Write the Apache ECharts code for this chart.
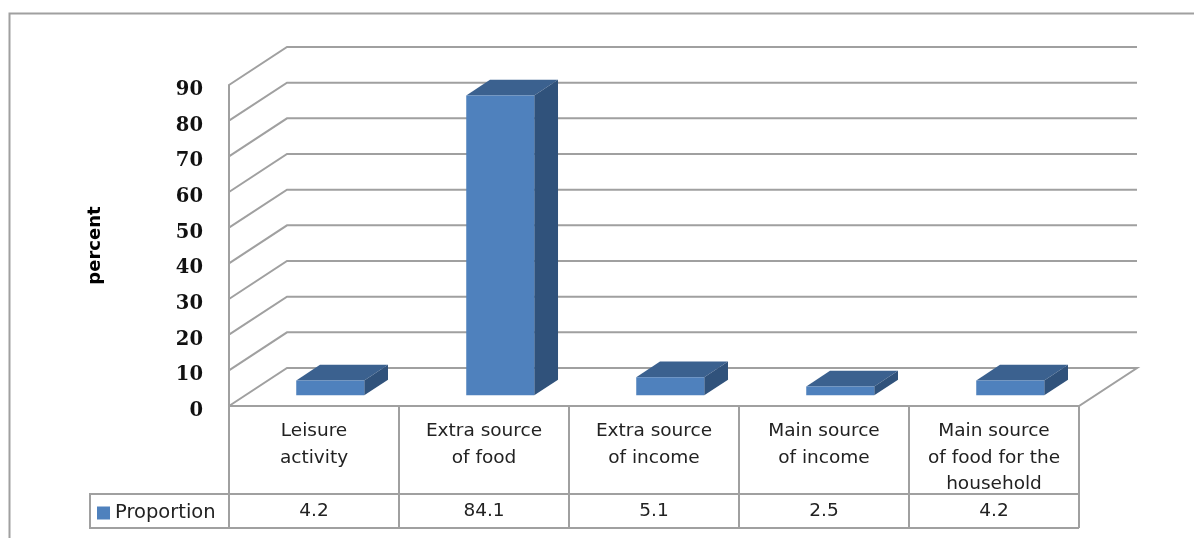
<!DOCTYPE html>
<html>
<head>
<meta charset="utf-8">
<script src="https://cdn.jsdelivr.net/npm/echarts@6/dist/echarts.min.js"></script>
<style>
html,body{margin:0;padding:0;background:#fff;overflow:hidden}
#c{width:1194px;height:538px;filter:blur(0.5px)}
</style>
</head>
<body>
<div id="c"></div>
<script>
var categories = ['Leisure\nactivity','Extra source\nof food','Extra source\nof income','Main source\nof income','Main source\nof food for the\nhousehold'];
var proportion = [4.2, 84.1, 5.1, 2.5, 4.2];
var gridTicks = [0,10,20,30,40,50,60,70,80,90];
var seriesName = 'Proportion';

var LINE = '#a0a0a0', LW = 2, TEXT = '#222222';
var DX = 58, DY = -38;           // floor depth in pixels
var BAR_FRONT = 0.28, BAR_BACK = 0.69, BAR_W = 0.4;
var ROW1 = 88, ROW2 = 122;       // table rows below the zero line
var FONT = '"DejaVu Sans"', FS = 18.5;

function line(pts){
  return {type:'polyline',shape:{points:pts},style:{stroke:LINE,lineWidth:LW,fill:null},silent:true};
}
function poly(pts,c){
  return {type:'polygon',shape:{points:pts},style:{fill:c,stroke:null}};
}

function renderWall(params,api){
  var v = api.value(1);
  var n = categories.length;
  var halfBand = api.size([1,0])[0]/2;
  var a = api.coord([0,v]), b = api.coord([n-1,v]);
  var x0 = a[0]-halfBand, x1 = b[0]+halfBand, y = a[1];
  var kids = [line([[x0,y],[x0+DX,y+DY],[x1+DX,y+DY]])];
  if(v===0){
    kids = [line([[x0,y],[x0+DX,y+DY],[x1+DX,y+DY],[x1,y],[x0,y]])];
  }
  return {type:'group',children:kids};
}

function renderBar(params,api){
  var i = api.value(0), v = api.value(1);
  var base = api.coord([i,0]), top = api.coord([i,v]);
  var w = api.size([1,0])[0]*BAR_W;
  var fx = base[0]-w/2+DX*BAR_FRONT, bx = (BAR_BACK-BAR_FRONT)*DX, by = (BAR_BACK-BAR_FRONT)*DY;
  var oy = DY*BAR_FRONT;
  var yb = base[1]+oy, yt = top[1]+oy;
  return {type:'group',children:[
    poly([[fx,yt],[fx+bx,yt+by],[fx+w+bx,yt+by],[fx+w,yt]],'#3b618f'),
    poly([[fx+w,yt],[fx+w+bx,yt+by],[fx+w+bx,yb+by],[fx+w,yb]],'#30527b'),
    poly([[fx,yt],[fx+w,yt],[fx+w,yb],[fx,yb]],'#4f81bd')
  ]};
}

function renderTable(params,api){
  var i = api.value(0), v = api.value(1);
  var p = api.coord([i,0]);
  var half = api.size([1,0])[0]/2, y0 = p[1];
  var l = p[0]-half, r = p[0]+half;
  var kids = [
    line([[l,y0],[l,y0+ROW2]]),
    line([[r,y0],[r,y0+ROW2]]),
    line([[l,y0+ROW1],[r,y0+ROW1]]),
    line([[l,y0+ROW2],[r,y0+ROW2]]),
    {type:'text',x:p[0],y:y0+(ROW1+ROW2)/2,style:{text:v.toFixed(1),fill:TEXT,font:FS+'px '+FONT,textAlign:'center',textVerticalAlign:'middle'}}
  ];
  if(i===0){
    kids.push(line([[l,y0+ROW1],[l-139,y0+ROW1],[l-139,y0+ROW2],[l,y0+ROW2]]));
  }
  return {type:'group',children:kids};
}

var chart = echarts.init(document.getElementById('c'),null,{renderer:'canvas'});
var tableData = proportion.map(function(v,i){return [i,v];});
chart.setOption({
  animation:false,
  backgroundColor:'#fff',
  grid:{left:229,top:85,width:850,height:321,containLabel:false},
  legend:{
    data:[{name:seriesName,icon:'rect'}],
    left:92,top:498,itemWidth:13,itemHeight:13,itemGap:7,itemStyle:{borderWidth:0},selectedMode:false,
    textStyle:{color:TEXT,fontFamily:FONT,fontSize:19.5}
  },
  xAxis:{
    type:'category',data:categories,
    axisLine:{show:false},axisTick:{show:false},splitLine:{show:false},
    axisLabel:{interval:0,margin:12,color:TEXT,fontFamily:FONT,fontSize:FS,lineHeight:26.5,verticalAlign:'top',hideOverlap:false}
  },
  yAxis:{
    type:'value',min:0,max:90,interval:10,
    name:'percent',nameLocation:'middle',nameGap:125,nameRotate:90,
    nameTextStyle:{color:'#000',fontFamily:FONT,fontWeight:'bold',fontSize:18},
    axisLine:{show:true,lineStyle:{color:LINE,width:LW}},axisTick:{show:false},splitLine:{show:false},
    axisLabel:{margin:26,color:'#111',fontFamily:'"DejaVu Serif"',fontWeight:'bold',fontSize:19.5,verticalAlign:'top',lineHeight:10}
  },
  graphic:[{type:'polyline',shape:{points:[[9.5,538],[9.5,13.5],[1194,13.5]]},style:{stroke:LINE,lineWidth:LW,fill:null},silent:true}],
  series:[
    {type:'custom',name:'walls',renderItem:renderWall,encode:{x:0,y:1},data:gridTicks.map(function(t){return [0,t];}),clip:false,silent:true,z:1},
    {type:'custom',name:'table',renderItem:renderTable,encode:{x:0,y:1},data:tableData,clip:false,silent:true,z:1},
    {type:'custom',name:seriesName,renderItem:renderBar,encode:{x:0,y:1},data:tableData,clip:false,itemStyle:{color:'#4f81bd'},z:3}
  ]
});
</script>
</body>
</html>
